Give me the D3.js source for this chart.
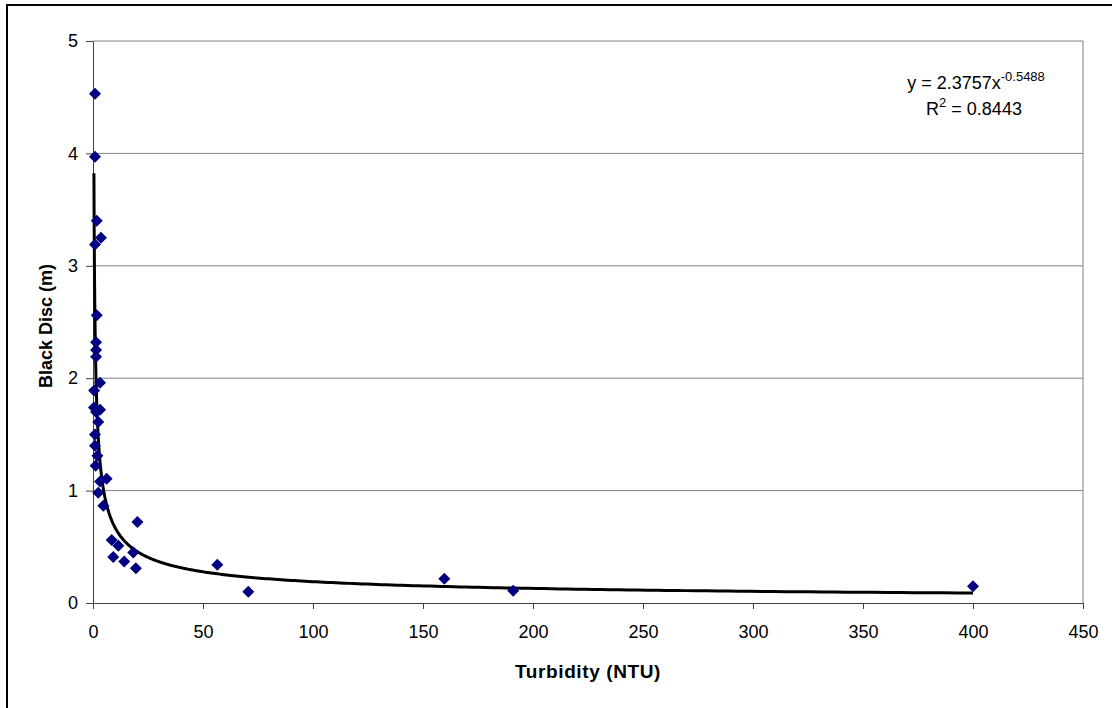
<!DOCTYPE html>
<html>
<head>
<meta charset="utf-8">
<script src="https://cdn.jsdelivr.net/npm/d3@7"></script>
<style>
  body { margin: 0; background: #fff; }
  svg { display: block; font-family: "Liberation Sans", Arial, sans-serif; }
</style>
</head>
<body>
<svg id="chart" width="1112" height="708"></svg>
<script>
// Turbidity (NTU) readings and matching black disc visibility (m)
var turbidity = [0.9, 0.9, 1.7, 3.6, 0.9, 1.7, 1.4, 1.4, 1.4, 3.2, 0.5, 0.42, 3.2, 1.4, 2.4,
                 0.9, 0.9, 2.0, 1.2, 6.2, 3.2, 2.4, 4.7, 20.2, 8.5, 11.5, 9.2, 18.3, 14.2, 19.5,
                 56.5, 70.6, 159.7, 191, 400];
var blackDisc = [4.53, 3.97, 3.40, 3.25, 3.19, 2.56, 2.32, 2.25, 2.19, 1.96, 1.89, 1.74, 1.72, 1.70, 1.61,
                 1.50, 1.40, 1.31, 1.22, 1.105, 1.08, 0.98, 0.865, 0.72, 0.56, 0.51, 0.41, 0.45, 0.37, 0.31,
                 0.34, 0.10, 0.215, 0.11, 0.148];

// power trendline shown on the chart
var fitA = 2.3757, fitB = -0.5488, fitR2 = 0.8443;

var xTicks = [0, 50, 100, 150, 200, 250, 300, 350, 400, 450];
var yTicks = [0, 1, 2, 3, 4, 5];

var svg = d3.select('#chart');
var plot = { left: 93, top: 41, right: 1083, bottom: 603 };

var x = d3.scaleLinear().domain([0, 450]).range([plot.left, plot.right]);
var y = d3.scaleLinear().domain([0, 5]).range([plot.bottom, plot.top]);

// outer chart border
svg.append('rect')
    .attr('x', 7).attr('y', 5)
    .attr('width', 1120).attr('height', 720)
    .attr('fill', 'none')
    .attr('stroke', '#000')
    .attr('stroke-width', 2);

// gridlines
svg.append('g')
    .selectAll('line')
    .data(yTicks.filter(function (d) { return d > 0; }))
    .enter()
    .append('line')
    .attr('x1', plot.left).attr('x2', plot.right)
    .attr('y1', function (d) { return y(d); })
    .attr('y2', function (d) { return y(d); })
    .attr('stroke', '#808080')
    .attr('stroke-width', 1);

// right edge of plot area
svg.append('line')
    .attr('x1', plot.right).attr('x2', plot.right)
    .attr('y1', plot.top).attr('y2', plot.bottom)
    .attr('stroke', '#808080')
    .attr('stroke-width', 1);

// axes
var xAxis = svg.append('g')
    .attr('transform', 'translate(0,' + plot.bottom + ')')
    .call(d3.axisBottom(x).tickValues(xTicks).tickFormat(d3.format('d'))
        .tickSizeOuter(0).tickSizeInner(6).tickPadding(16));

var yAxis = svg.append('g')
    .attr('transform', 'translate(' + plot.left + ',0)')
    .call(d3.axisLeft(y).tickValues(yTicks).tickFormat(d3.format('d'))
        .tickSizeOuter(0).tickSizeInner(7).tickPadding(8));

[xAxis, yAxis].forEach(function (a) {
    a.select('.domain').attr('stroke', '#404040');
    a.selectAll('.tick line').attr('stroke', '#404040');
    a.selectAll('.tick text')
        .attr('fill', '#000')
        .style('font-size', '18px')
        .style('font-family', '"Liberation Sans", Arial, sans-serif');
});

// axis titles
svg.append('text')
    .attr('x', 588)
    .attr('y', 678)
    .attr('text-anchor', 'middle')
    .style('font-size', '19px')
    .style('font-weight', 'bold')
    .style('letter-spacing', '0.6px')
    .text('Turbidity (NTU)');

svg.append('text')
    .attr('transform', 'translate(52,326) rotate(-90)')
    .attr('text-anchor', 'middle')
    .style('font-size', '18px')
    .style('font-weight', 'bold')
    .text('Black Disc (m)');

// trendline over the data's x range
var xMin = d3.min(turbidity), xMax = d3.max(turbidity);
var trend = d3.range(0, 401).map(function (i) {
    var t = i / 400;
    var xv = xMin * Math.pow(xMax / xMin, t);
    return [xv, fitA * Math.pow(xv, fitB)];
});

svg.append('path')
    .datum(trend)
    .attr('fill', 'none')
    .attr('stroke', '#000')
    .attr('stroke-width', 3)
    .attr('d', d3.line()
        .x(function (d) { return x(d[0]); })
        .y(function (d) { return y(d[1]); }));

// markers
var r = 6;
svg.append('g')
    .selectAll('path')
    .data(d3.range(turbidity.length))
    .enter()
    .append('path')
    .attr('transform', function (i) {
        return 'translate(' + x(turbidity[i]) + ',' + y(blackDisc[i]) + ')';
    })
    .attr('d', 'M0,' + (-r) + 'L' + r + ',0L0,' + r + 'L' + (-r) + ',0Z')
    .attr('fill', '#000080');

// equation label
var eq = svg.append('text')
    .attr('x', 976).attr('y', 89)
    .attr('text-anchor', 'middle')
    .style('font-size', '18px');
eq.append('tspan').text('y = ' + fitA + 'x');
eq.append('tspan').attr('dy', -8).style('font-size', '13px').text(fitB);

var r2 = svg.append('text')
    .attr('x', 974).attr('y', 115)
    .attr('text-anchor', 'middle')
    .style('font-size', '18px');
r2.append('tspan').text('R');
r2.append('tspan').attr('dy', -8).style('font-size', '13px').text('2');
r2.append('tspan').attr('dy', 8).text(' = ' + fitR2);
</script>
</body>
</html>
